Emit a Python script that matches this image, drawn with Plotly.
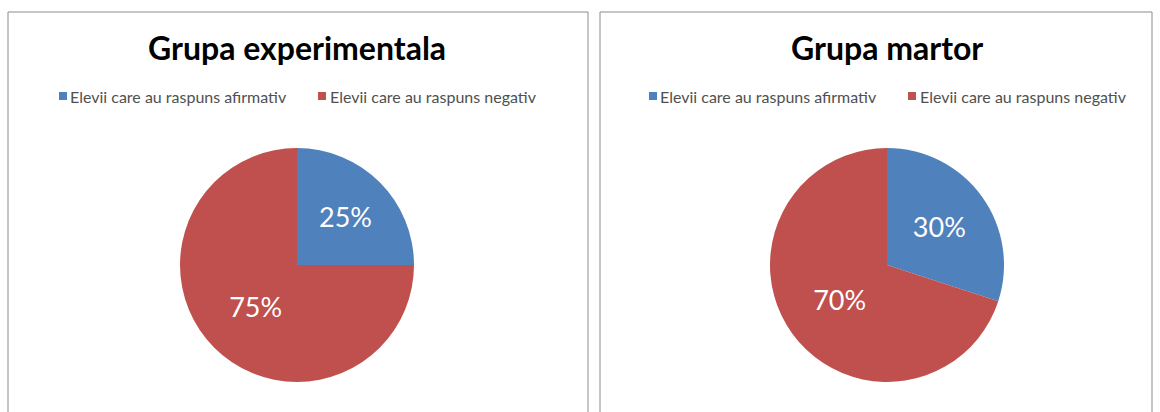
import plotly.graph_objects as go

W, H = 1160, 412

categories = ["Elevii care au raspuns afirmativ", "Elevii care au raspuns negativ"]
experimental_values = [25, 75]
control_values = [30, 70]
titles = ["Grupa experimentala", "Grupa martor"]
colors = ["#4F81BD", "#C0504D"]

FONT = "Lato"

# panel layout in pixels: (left, right, pie centre x)
panels = [(8, 588, 297), (600, 1152, 887)]
pie_cy = 265
pie_r = 117
legend_y = 96
# legend entries relative to the panel centre: (marker left, text left)
legend_offsets = [(-238, -229), (21, 31)]
swatch = 8


def px_x(x):
    return x / W


def px_y(y):
    return 1 - y / H


fig = go.Figure()

for i, (vals, title, (left, right, cx)) in enumerate(
        zip([experimental_values, control_values], titles, panels)):
    fig.add_trace(go.Pie(
        labels=categories,
        values=vals,
        sort=False,
        direction="clockwise",
        rotation=0,
        marker=dict(colors=colors, line=dict(width=0)),
        textinfo="percent",
        texttemplate="%{percent:.0%}",
        textposition="inside",
        insidetextfont=dict(color="white", size=27, family=FONT),
        hoverinfo="skip",
        domain=dict(x=[px_x(cx - pie_r), px_x(cx + pie_r)],
                    y=[px_y(pie_cy + pie_r), px_y(pie_cy - pie_r)]),
        showlegend=False,
    ))
    # panel frame (extends below the visible area)
    fig.add_shape(type="rect", xref="paper", yref="paper",
                  x0=px_x(left), x1=px_x(right), y0=px_y(H + 40), y1=px_y(12),
                  line=dict(color="#8c8c8c", width=1), fillcolor="rgba(0,0,0,0)")
    fig.add_annotation(text=f"<b>{title}</b>", x=px_x(cx), y=px_y(48),
                       xref="paper", yref="paper", showarrow=False,
                       xanchor="center", yanchor="middle",
                       font=dict(size=32, family=FONT, color="black"))
    # legend: colour swatch + label for each category
    for cat, col, (mo, to) in zip(categories, colors, legend_offsets):
        mx = cx + mo
        fig.add_shape(type="rect", xref="paper", yref="paper",
                      x0=px_x(mx), x1=px_x(mx + swatch),
                      y0=px_y(legend_y + swatch / 2), y1=px_y(legend_y - swatch / 2),
                      line=dict(width=0), fillcolor=col)
        fig.add_annotation(text=cat, x=px_x(cx + to), y=px_y(legend_y),
                           xref="paper", yref="paper", showarrow=False,
                           xanchor="left", yanchor="middle",
                           font=dict(size=16, family=FONT, color="#505050"))

fig.update_layout(
    width=W, height=H,
    margin=dict(l=0, r=0, t=0, b=0),
    paper_bgcolor="white", plot_bgcolor="white",
    showlegend=False,
)

fig.write_html("out.html")
